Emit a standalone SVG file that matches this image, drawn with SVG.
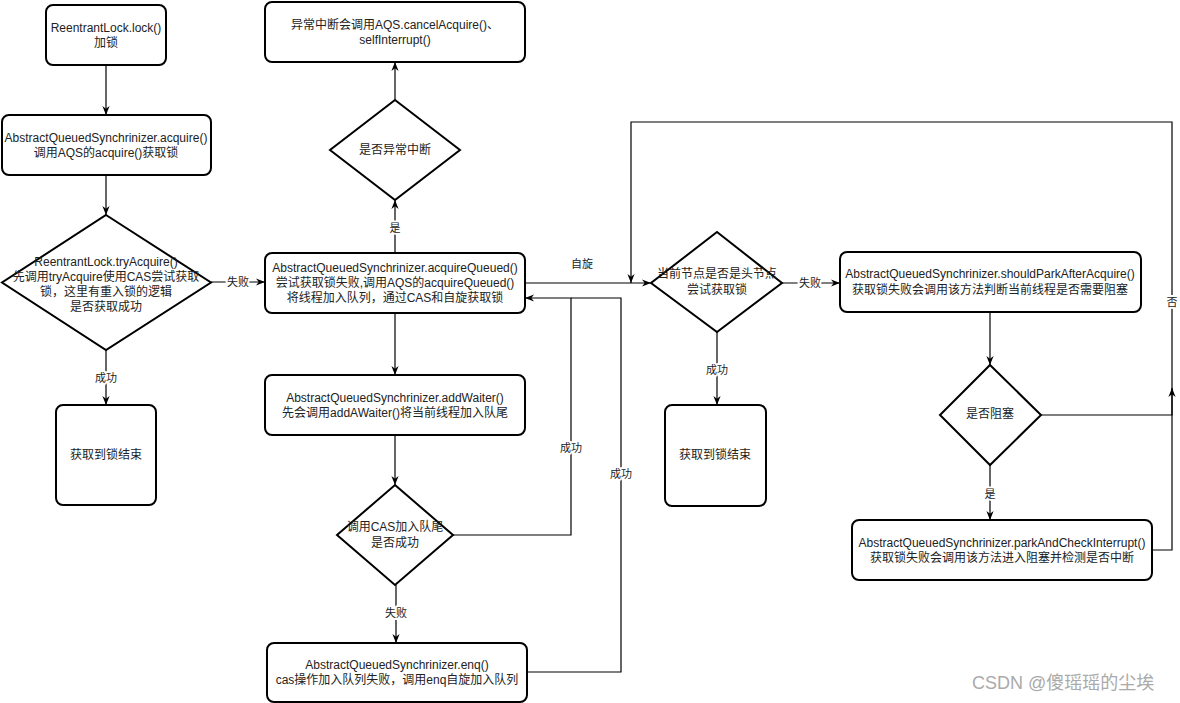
<svg xmlns="http://www.w3.org/2000/svg" width="1180" height="703" viewBox="0 0 1180 703">
<style>
.box{fill:#fff;stroke:#000;stroke-width:2}
.dia{fill:#fff;stroke:#000;stroke-width:2}
.edge{fill:none;stroke:#000;stroke-width:1.2}
.arr{marker-end:url(#a)}
text{font-family:"Liberation Sans","Noto Sans CJK SC",sans-serif;font-size:12px;fill:#222;text-anchor:middle}
.lbl{font-size:11px;paint-order:stroke;stroke:#fff;stroke-width:4px;stroke-linejoin:round}
.wm{font-size:18px;fill:#aaa;text-anchor:start}
</style>
<defs>
<marker id="a" viewBox="0 0 10 8" refX="10" refY="4" markerWidth="9" markerHeight="7.5" orient="auto" markerUnits="userSpaceOnUse">
<path d="M0,0 L10,4 L0,8 L3,4 z" fill="#000"/>
</marker>
</defs>
<rect width="1180" height="703" fill="#fff"/>
<g id="connectors">
<path class="edge arr" d="M106 65 V115"/>
<path class="edge arr" d="M106 175 V215"/>
<path class="edge arr" d="M211 282 H265"/>
<path class="edge arr" d="M106 350 V405"/>
<path class="edge arr" d="M395 253 V200"/>
<path class="edge arr" d="M395 100 V62"/>
<path class="edge arr" d="M395 313 V375"/>
<path class="edge arr" d="M395 435 V485"/>
<path class="edge arr" d="M396 585 V643"/>
<path class="edge arr" d="M453 535 H571 V298 H525"/>
<path class="edge" d="M527 672 H621 V298 H571"/>
<path class="edge arr" d="M525 283 H651"/>
<path class="edge arr" d="M782 283 H840"/>
<path class="edge arr" d="M717 332 V405"/>
<path class="edge arr" d="M990 312 V365"/>
<path class="edge arr" d="M990 465 V520"/>
<path class="edge arr" d="M1041 415 H1172 V122 H631 V283"/>
<path class="edge arr" d="M1152 550 H1172 V388"/>
<text class="lbl" x="238" y="286">失败</text>
<text class="lbl" x="106" y="382">成功</text>
<text class="lbl" x="395" y="232">是</text>
<text class="lbl" x="582" y="268">自旋</text>
<text class="lbl" x="396" y="617">失败</text>
<text class="lbl" x="571" y="452">成功</text>
<text class="lbl" x="621" y="478">成功</text>
<text class="lbl" x="810" y="287">失败</text>
<text class="lbl" x="717" y="374">成功</text>
<text class="lbl" x="990" y="498">是</text>
<text class="lbl" x="1172" y="306">否</text>
</g>
<g id="lock">
<rect class="box" x="46" y="5" width="120" height="60" rx="7"/>
<text x="106" y="32">ReentrantLock.lock()</text>
<text x="106" y="47">加锁</text>
</g>
<g id="acquire">
<rect class="box" x="2" y="115" width="209" height="60" rx="7"/>
<text x="106" y="142">AbstractQueuedSynchrinizer.acquire()</text>
<text x="106" y="157">调用AQS的acquire()获取锁</text>
</g>
<g id="tryAcquire">
<polygon class="dia" points="106,215 211,282.5 106,350 2,282.5"/>
<text x="106" y="266">ReentrantLock.tryAcquire()</text>
<text x="106" y="281">先调用tryAcquire使用CAS尝试获取</text>
<text x="106" y="296">锁，这里有重入锁的逻辑</text>
<text x="106" y="311">是否获取成功</text>
</g>
<g id="end1">
<rect class="box" x="56" y="405" width="100" height="100" rx="7"/>
<text x="106" y="459">获取到锁结束</text>
</g>
<g id="cancel">
<rect class="box" x="265" y="2" width="260" height="60" rx="7"/>
<text x="395" y="29">异常中断会调用AQS.cancelAcquire()、</text>
<text x="395" y="44">selfInterrupt()</text>
</g>
<g id="interrupted">
<polygon class="dia" points="395,100 460,150 395,200 330,150"/>
<text x="395" y="154">是否异常中断</text>
</g>
<g id="acquireQueued">
<rect class="box" x="265" y="253" width="260" height="60" rx="7"/>
<text x="395" y="272">AbstractQueuedSynchrinizer.acquireQueued()</text>
<text x="395" y="287">尝试获取锁失败,调用AQS的acquireQueued()</text>
<text x="395" y="302">将线程加入队列，通过CAS和自旋获取锁</text>
</g>
<g id="addWaiter">
<rect class="box" x="265" y="375" width="260" height="60" rx="7"/>
<text x="395" y="402">AbstractQueuedSynchrinizer.addWaiter()</text>
<text x="395" y="417">先会调用addAWaiter()将当前线程加入队尾</text>
</g>
<g id="casTail">
<polygon class="dia" points="395,485 453,535 395,585 337,535"/>
<text x="395" y="531">调用CAS加入队尾</text>
<text x="395" y="547">是否成功</text>
</g>
<g id="enq">
<rect class="box" x="267" y="643" width="260" height="59" rx="7"/>
<text x="397" y="669">AbstractQueuedSynchrinizer.enq()</text>
<text x="397" y="684">cas操作加入队列失败，调用enq自旋加入队列</text>
</g>
<g id="isHead">
<polygon class="dia" points="717,232 782,283 717,332 651,283"/>
<text x="717" y="278">当前节点是否是头节点</text>
<text x="717" y="294">尝试获取锁</text>
</g>
<g id="end2">
<rect class="box" x="665" y="405" width="101" height="101" rx="7"/>
<text x="715" y="459">获取到锁结束</text>
</g>
<g id="shouldPark">
<rect class="box" x="840" y="252" width="301" height="60" rx="7"/>
<text x="990" y="278">AbstractQueuedSynchrinizer.shouldParkAfterAcquire()</text>
<text x="990" y="294">获取锁失败会调用该方法判断当前线程是否需要阻塞</text>
</g>
<g id="block">
<polygon class="dia" points="990,365 1041,415 990,465 940,415"/>
<text x="990" y="418">是否阻塞</text>
</g>
<g id="park">
<rect class="box" x="852" y="520" width="300" height="60" rx="7"/>
<text x="1002" y="547">AbstractQueuedSynchrinizer.parkAndCheckInterrupt()</text>
<text x="1002" y="562">获取锁失败会调用该方法进入阻塞并检测是否中断</text>
</g>
<text class="wm" x="972" y="689">CSDN @傻瑶瑶的尘埃</text>
</svg>
